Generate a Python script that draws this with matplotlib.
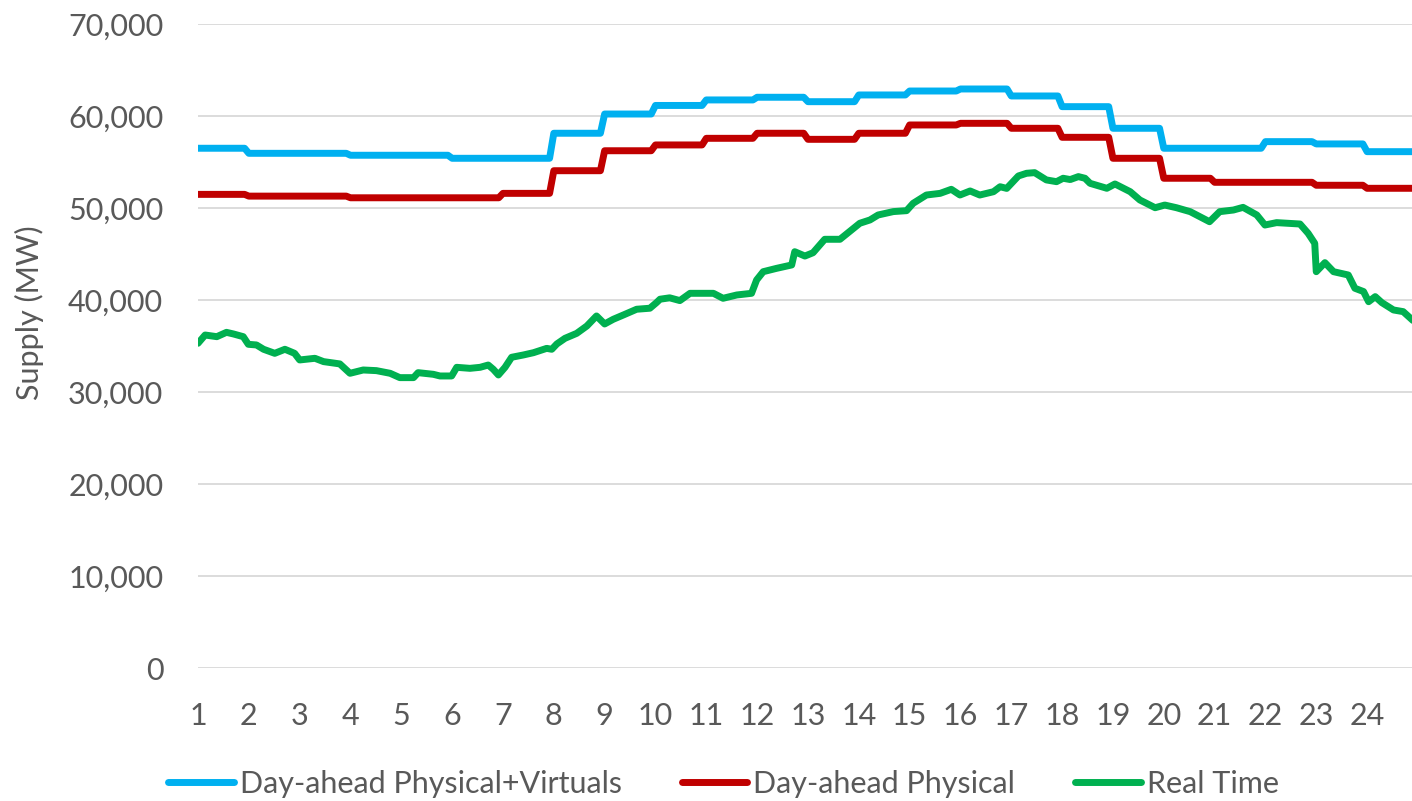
import matplotlib
matplotlib.use("Agg")
import matplotlib.pyplot as plt
import numpy as np
from matplotlib.ticker import FuncFormatter

# ---------------- data ----------------
hours = list(range(1, 25))

da_phys_virt = [56500, 55950, 55950, 55740, 55740, 55410, 55410, 58130, 60220, 61150,
                61750, 62040, 61560, 62290, 62720, 62940, 62180, 61020, 58670, 56500,
                56500, 57220, 56970, 56130]

da_phys = [51490, 51300, 51300, 51120, 51120, 51120, 51600, 54060, 56230, 56860,
           57580, 58130, 57470, 58130, 59030, 59210, 58670, 57690, 55410, 53240,
           52800, 52800, 52480, 52150]

rt_hour = [1.00, 1.14, 1.37, 1.56, 1.70, 1.89, 1.99, 2.15, 2.29, 2.51, 2.71, 2.90,
           3.00, 3.30, 3.47, 3.79, 3.99, 4.25, 4.51, 4.78, 4.97, 5.24, 5.33, 5.63,
           5.76, 5.99, 6.09, 6.35, 6.55, 6.71, 6.81, 6.91, 7.04, 7.17, 7.40, 7.60,
           7.86, 7.96, 8.06, 8.22, 8.45, 8.65, 8.84, 9.00, 9.17, 9.37, 9.63, 9.89,
           10.02, 10.09, 10.28, 10.48, 10.68, 11.14, 11.33, 11.60, 11.89, 11.99, 12.12, 12.38,
           12.68, 12.74, 12.94, 13.10, 13.33, 13.63, 14.02, 14.22, 14.38, 14.68, 14.94, 15.07,
           15.33, 15.60, 15.82, 15.99, 16.19, 16.38, 16.65, 16.78, 16.91, 17.14, 17.30, 17.46,
           17.69, 17.89, 18.02, 18.16, 18.32, 18.45, 18.55, 18.88, 19.04, 19.34, 19.53, 19.83,
           20.02, 20.25, 20.52, 20.90, 21.10, 21.37, 21.56, 21.83, 21.99, 22.22, 22.68, 22.84,
           22.97, 23.00, 23.17, 23.34, 23.63, 23.76, 23.93, 24.03, 24.16, 24.29, 24.52, 24.71,
           24.92]

rt_supply = [35310, 36210, 36030, 36500, 36320, 36030, 35200, 35130, 34660, 34220, 34660, 34220,
             33500, 33680, 33320, 33070, 32050, 32410, 32340, 32050, 31580, 31580, 32120, 31940,
             31760, 31760, 32700, 32590, 32700, 32950, 32480, 31870, 32700, 33790, 34040, 34290,
             34760, 34660, 35240, 35850, 36390, 37190, 38280, 37410, 37920, 38390, 39010, 39120,
             39730, 40100, 40250, 39950, 40740, 40740, 40200, 40560, 40740, 42190, 43090, 43450,
             43820, 45260, 44790, 45150, 46610, 46610, 48350, 48710, 49250, 49620, 49720, 50520,
             51420, 51600, 52040, 51420, 51860, 51420, 51780, 52320, 52140, 53490, 53780, 53850,
             53060, 52870, 53240, 53100, 53420, 53240, 52690, 52150, 52620, 51780, 50880, 50040,
             50330, 50040, 49610, 48520, 49610, 49790, 50080, 49250, 48160, 48420, 48270, 47260,
             46170, 43090, 44070, 43090, 42730, 41290, 40930, 39830, 40380, 39730, 38930, 38750,
             37700]

series_labels = ["Day-ahead Physical+Virtuals", "Day-ahead Physical", "Real Time"]
colors = ["#00B0F0", "#C00000", "#00B050"]

# ---------------- plot ----------------
plt.rcParams["font.family"] = ["Lato", "DejaVu Sans"]
W, H = 1412, 801
fig = plt.figure(figsize=(W / 100, H / 100), dpi=100)
x_left, x_right = 198, 1412
y_top, y_bot = 24, 668.3
ax = fig.add_axes([x_left / W, (H - y_bot) / H, (x_right - x_left) / W, (y_bot - y_top) / H])

# five-minute intervals: each hourly day-ahead value holds for 12 intervals
t5 = 1 + np.arange(24 * 12) / 12.0
lw = 5
l1, = ax.plot(t5, np.repeat(da_phys_virt, 12), color=colors[0], lw=lw,
              solid_joinstyle="round", solid_capstyle="round")
l2, = ax.plot(t5, np.repeat(da_phys, 12), color=colors[1], lw=lw,
              solid_joinstyle="round", solid_capstyle="round")
l3, = ax.plot(rt_hour, rt_supply, color=colors[2], lw=lw,
              solid_joinstyle="round", solid_capstyle="round")

ax.set_xlim(1, 1 + (x_right - x_left) / 50.83)
ax.set_ylim(0, 70000)
ax.set_yticks(range(0, 70001, 10000))
ax.yaxis.set_major_formatter(FuncFormatter(lambda v, p: f"{int(v):,}"))
ax.set_xticks(hours)
ax.set_xticklabels([str(h) for h in hours])

ax.grid(axis="y", color="#D9D9D9", lw=1.3)
ax.grid(axis="x", visible=False)
ax.set_axisbelow(True)
for s in ax.spines.values():
    s.set_visible(False)

txt = "#595959"
fs = 22
ax.tick_params(axis="y", length=0, labelsize=fs, labelcolor=txt, pad=25)
ax.tick_params(axis="x", length=0, labelsize=fs, labelcolor=txt, pad=24)

ax.set_ylabel("Supply (MW)", fontsize=fs, color=txt)
ax.yaxis.set_label_coords((44 - x_left) / (x_right - x_left), (y_bot - 313) / (y_bot - y_top))

fig.legend([l1, l2, l3], series_labels, loc="center",
           bbox_to_anchor=(723.5 / W, 1 - 784 / H), ncol=3, frameon=False,
           fontsize=fs, labelcolor=txt, handlelength=2.15, handletextpad=0.2,
           columnspacing=1.95, borderaxespad=0, borderpad=0)

fig.savefig("out.png", dpi=100)
